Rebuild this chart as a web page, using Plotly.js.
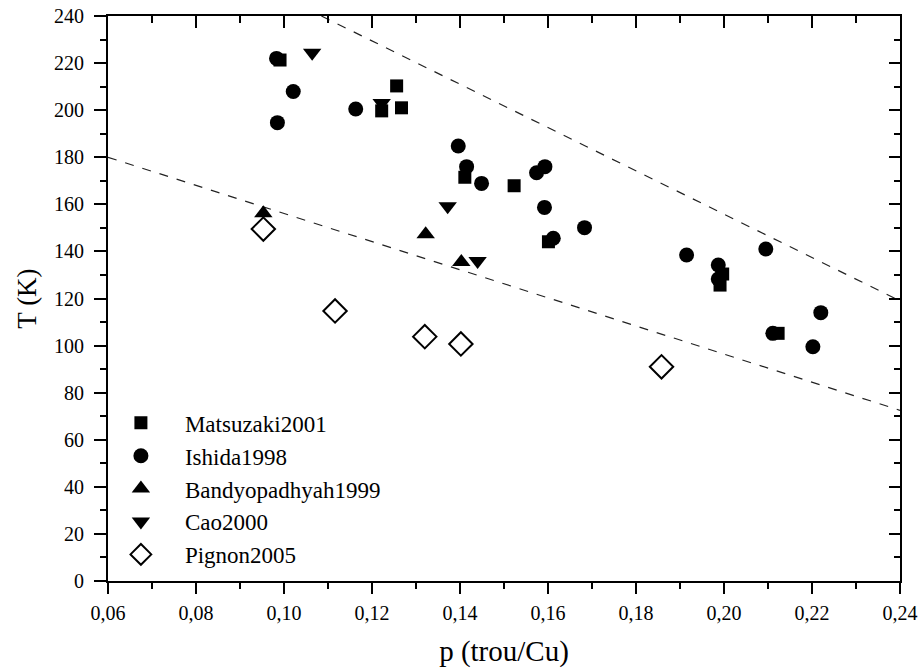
<!DOCTYPE html>
<html>
<head>
<meta charset="utf-8">
<script src="https://cdn.plot.ly/plotly-3.0.1.min.js"></script>
<style>html,body{margin:0;padding:0;background:#fff;}#chart{width:923px;height:672px;}</style>
</head>
<body>
<div id="chart"></div>
<script>
// Data
const matsuzakiP = [0.0991, 0.1256, 0.1222, 0.1267, 0.1411, 0.1523, 0.1601, 0.1997, 0.1991, 0.2123];
const matsuzakiT = [221.3, 210.3, 199.7, 201.0, 171.5, 167.9, 144.1, 130.4, 125.7, 105.2];

const ishidaP = [0.0983, 0.1021, 0.0985, 0.1163, 0.1396, 0.1415, 0.1449, 0.1574, 0.1593, 0.1592, 0.1612, 0.1683, 0.1915, 0.1987, 0.1987, 0.2095, 0.2111, 0.2220, 0.2202];
const ishidaT = [222.0, 207.9, 194.7, 200.5, 184.8, 176.0, 168.9, 173.4, 176.0, 158.7, 145.6, 150.1, 138.5, 134.2, 128.3, 141.0, 105.2, 114.0, 99.5];

const bandyoP = [0.0953, 0.1322, 0.1403];
const bandyoT = [156.2, 147.3, 135.5];

const caoP = [0.1064, 0.1222, 0.1372, 0.1440];
const caoT = [224.4, 203.0, 159.2, 135.9];

const pignonP = [0.0953, 0.1116, 0.1320, 0.1402, 0.1858];
const pignonT = [149.5, 114.7, 103.8, 100.7, 91.0];

// Dashed boundary lines
const upperP = [0.1085, 0.24];
const upperT = [240, 119];
const lowerP = [0.06, 0.24];
const lowerT = [180, 72.5];

const xTickVals = [0.06, 0.08, 0.10, 0.12, 0.14, 0.16, 0.18, 0.20, 0.22, 0.24];
const yTickVals = [0, 20, 40, 60, 80, 100, 120, 140, 160, 180, 200, 220, 240];

const serif = "Liberation Serif, Times New Roman, Times, serif";

const lineStyle = {color: '#222', width: 1.2, dash: 'dash'};

const traces = [
  {x: upperP, y: upperT, mode: 'lines', line: lineStyle, showlegend: false, hoverinfo: 'skip'},
  {x: lowerP, y: lowerT, mode: 'lines', line: lineStyle, showlegend: false, hoverinfo: 'skip'},
  {x: matsuzakiP, y: matsuzakiT, mode: 'markers', name: 'Matsuzaki2001', legendgroup: 'a',
   marker: {symbol: 'square', size: 13, color: '#000'}},
  {x: ishidaP, y: ishidaT, mode: 'markers', name: 'Ishida1998', legendgroup: 'b',
   marker: {symbol: 'circle', size: 15, color: '#000'}},
  {x: bandyoP, y: bandyoT, mode: 'markers', name: 'Bandyopadhyah1999', legendgroup: 'c',
   marker: {symbol: 'triangle-up', size: 16, color: '#000'}},
  {x: caoP, y: caoT, mode: 'markers', name: 'Cao2000', legendgroup: 'd',
   marker: {symbol: 'triangle-down', size: 16, color: '#000'}},
  {x: pignonP, y: pignonT, mode: 'markers', name: 'Pignon2005', legendgroup: 'e',
   marker: {symbol: 'diamond-open', size: 18, color: '#000', line: {width: 2, color: '#000'}}},
  {x: [0.1], y: [100], xaxis: 'x2', yaxis: 'y2', mode: 'markers', marker: {opacity: 0},
   showlegend: false, hoverinfo: 'skip'}
];

const layout = {
  width: 923, height: 672,
  margin: {l: 108, r: 23, t: 16, b: 91},
  paper_bgcolor: '#fff', plot_bgcolor: '#fff',
  separators: ', ',
  font: {family: serif, color: '#000', size: 20},
  showlegend: true,
  legend: {x: -0.014, y: 0.318, xanchor: 'left', yanchor: 'top',
           font: {family: serif, size: 23, color: '#000'},
           bgcolor: 'rgba(0,0,0,0)', borderwidth: 0, itemwidth: 78,
           traceorder: 'grouped', tracegroupgap: 0},
  xaxis: {
    range: [0.06, 0.24], tickvals: xTickVals, tickformat: '.2f',
    ticks: 'outside', ticklen: 11, tickwidth: 2, tickcolor: '#000', ticklabelstandoff: 2,
    minor: {dtick: 0.01, tick0: 0.06, ticks: 'outside', ticklen: 6, tickwidth: 2, tickcolor: '#000'},
    showline: true, linewidth: 2, linecolor: '#000', showgrid: false, zeroline: false,
    tickfont: {family: serif, size: 20},
    title: {text: 'p (trou/Cu)', font: {family: serif, size: 29}, standoff: 18}
  },
  yaxis: {
    range: [0, 240], tickvals: yTickVals,
    ticks: 'outside', ticklen: 12, tickwidth: 2, tickcolor: '#000', ticklabelstandoff: 6,
    minor: {dtick: 10, tick0: 0, ticks: 'outside', ticklen: 6, tickwidth: 2, tickcolor: '#000'},
    showline: true, linewidth: 2, linecolor: '#000', showgrid: false, zeroline: false,
    tickfont: {family: serif, size: 20},
    title: {text: 'T (K)', font: {family: serif, size: 27}, standoff: 10}
  },
  xaxis2: {
    overlaying: 'x', side: 'top', range: [0.06, 0.24], tickvals: xTickVals,
    ticks: 'inside', ticklen: 12, tickwidth: 2, tickcolor: '#000', showticklabels: false,
    minor: {dtick: 0.01, tick0: 0.06, ticks: 'inside', ticklen: 7, tickwidth: 2, tickcolor: '#000'},
    showline: true, linewidth: 2, linecolor: '#000', showgrid: false, zeroline: false
  },
  yaxis2: {
    overlaying: 'y', side: 'right', range: [0, 240], tickvals: yTickVals,
    ticks: 'inside', ticklen: 11, tickwidth: 2, tickcolor: '#000', showticklabels: false,
    minor: {dtick: 10, tick0: 0, ticks: 'inside', ticklen: 6, tickwidth: 2, tickcolor: '#000'},
    showline: true, linewidth: 2, linecolor: '#000', showgrid: false, zeroline: false
  }
};

Plotly.newPlot('chart', traces, layout, {displayModeBar: false, staticPlot: true});
</script>
</body>
</html>
